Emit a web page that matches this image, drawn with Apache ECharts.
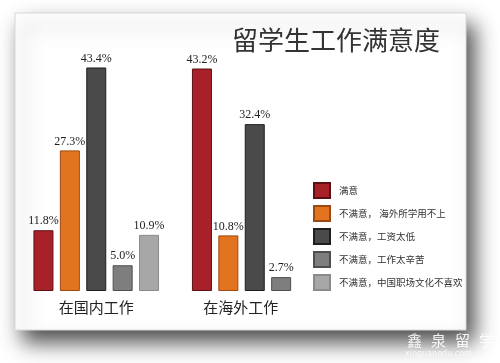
<!DOCTYPE html>
<html>
<head>
<meta charset="utf-8">
<script src="https://cdn.jsdelivr.net/npm/echarts@6/dist/echarts.min.js"></script>
<style>
html,body{margin:0;padding:0;background:#fff;}
#chart{width:500px;height:363px;}
</style>
</head>
<body>
<div id="chart"></div>
<script>
var categories = ['在国内工作', '在海外工作'];
var seriesNames = ['满意', '不满意， 海外所学用不上', '不满意，工资太低', '不满意，工作太辛苦', '不满意，中国职场文化不喜欢'];
var satisfied = [11.8, 43.2];
var notUseful = [27.3, 10.8];
var lowPay = [43.4, 32.4];
var tooHard = [5.0, 2.7];
var dislikeCulture = [10.9, '-'];
var titleText = '留学生工作满意度';

var fills = ['#a82128', '#e2741f', '#4b4a4a', '#7e7e7e', '#a7a7a7'];
var borders = ['#5c1014', '#9a4a12', '#1e1e1e', '#4e4e4e', '#8a8a8a'];
var values = [satisfied, notUseful, lowPay, tooHard, dislikeCulture];

var chart = echarts.init(document.getElementById('chart'));
var series = seriesNames.map(function (name, i) {
  return {
    name: name,
    type: 'bar',
    data: values[i],
    barWidth: 20,
    barGap: '32%',
    itemStyle: { color: fills[i], borderColor: borders[i], borderWidth: 1 },
    label: {
      show: true,
      position: 'top',
      distance: 3,
      formatter: function (p) { return p.value.toFixed(1) + '%'; },
      fontFamily: 'Liberation Serif',
      fontSize: 12,
      color: '#222'
    }
  };
});

chart.setOption({
  backgroundColor: '#ffffff',
  animation: false,
  title: {
    text: titleText,
    left: 227,
    top: 22,
    textStyle: { fontFamily: 'Noto Sans CJK SC', fontSize: 26, fontWeight: 'normal', color: '#333' }
  },
  graphic: [
    {
      type: 'rect', z: -10,
      shape: { x: 15, y: 13, width: 451, height: 317 },
      style: { fill: '#fff', stroke: '#d8d8d8', lineWidth: 1, shadowBlur: 20, shadowOffsetX: 8, shadowOffsetY: 12, shadowColor: 'rgba(0,0,0,0.7)' }
    },
    { type: 'text', z: 20, x: 407, y: 333, style: { text: '鑫', fill: 'rgba(255,255,255,0.9)', font: '15px "Noto Sans CJK SC"' } },
    { type: 'text', z: 20, x: 431, y: 333, style: { text: '泉', fill: 'rgba(255,255,255,0.9)', font: '15px "Noto Sans CJK SC"' } },
    { type: 'text', z: 20, x: 455, y: 333, style: { text: '留', fill: 'rgba(255,255,255,0.9)', font: '15px "Noto Sans CJK SC"' } },
    { type: 'text', z: 20, x: 479, y: 333, style: { text: '学', fill: 'rgba(255,255,255,0.9)', font: '15px "Noto Sans CJK SC"' } },
    { type: 'text', z: 20, x: 405, y: 350, style: { text: 'xinquanedu.com', fill: 'rgba(255,255,255,0.8)', font: '8px "DejaVu Sans"' } }
  ],
  legend: {
    orient: 'vertical',
    left: 313,
    top: 182,
    padding: 0,
    itemWidth: 16,
    itemHeight: 15,
    itemGap: 6,
    icon: 'rect',
    data: seriesNames,
    textStyle: { fontFamily: 'Noto Sans CJK SC', fontSize: 9.5, lineHeight: 15, color: '#333', padding: [0, 0, 0, 4] }
  },
  grid: { left: 17, right: 166, top: 33.5, bottom: 72 },
  xAxis: {
    type: 'category',
    data: categories,
    axisLine: { show: false },
    axisTick: { show: false },
    axisLabel: {
      margin: 9,
      formatter: function (v, i) { return i === 1 ? '{s|' + v + '}' : '{n|' + v + '}'; },
      rich: {
        n: { fontFamily: 'Noto Sans CJK SC', fontSize: 15, color: '#222' },
        s: { fontFamily: 'Noto Sans CJK SC', fontSize: 15, color: '#222', padding: [0, 28, 0, 0] }
      }
    }
  },
  yAxis: { type: 'value', min: 0, max: 50, show: false, splitLine: { show: false } },
  series: series
});
</script>
</body>
</html>
